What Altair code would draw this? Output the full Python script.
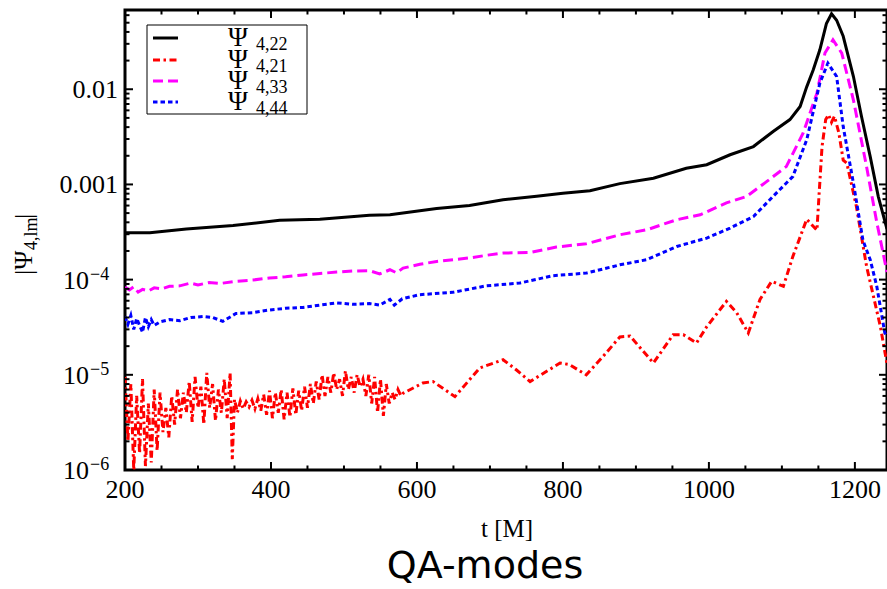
import altair as alt
import pandas as pd

# ---------------- data ----------------
t22 = [200, 234, 284, 348, 412, 467, 535, 563, 627, 672, 718, 764, 800, 837, 878, 924, 969, 997,
       1029, 1061, 1088, 1111, 1125, 1134, 1143, 1152, 1161, 1168, 1175, 1184, 1198, 1209, 1221, 1232, 1244]
v22 = [3.1e-4, 3.1e-4, 3.4e-4, 3.7e-4, 4.2e-4, 4.3e-4, 4.75e-4, 4.8e-4, 5.6e-4, 6.0e-4, 6.9e-4, 7.5e-4,
       8.1e-4, 8.6e-4, 1.02e-3, 1.16e-3, 1.48e-3, 1.61e-3, 2.05e-3, 2.5e-3, 3.6e-3, 4.8e-3, 6.6e-3,
       1.06e-2, 1.6e-2, 2.6e-2, 4.9e-2, 6.2e-2, 5.3e-2, 3.6e-2, 1.36e-2, 5.2e-3, 1.96e-3, 7.5e-4, 3.4e-4]

t33 = [200, 206, 212, 218, 224, 232, 240, 250, 261, 275, 290, 300, 315, 330, 352, 375, 398, 420, 444,
       467, 490, 512, 535, 549, 563, 572, 581, 604, 627, 650, 672, 695, 718, 755, 791, 832, 878, 915, 956,
       988, 1024, 1052, 1079, 1106, 1129, 1148, 1159, 1170, 1182, 1198, 1216, 1230, 1244]
v33 = [8.3e-5, 7.8e-5, 8.4e-5, 7.4e-5, 7.9e-5, 7.6e-5, 8.2e-5, 8.0e-5, 8.5e-5, 8.6e-5, 9.2e-5, 8.8e-5,
       9.3e-5, 9.1e-5, 9.6e-5, 9.9e-5, 1.04e-4, 1.07e-4, 1.12e-4, 1.16e-4, 1.2e-4, 1.23e-4, 1.24e-4,
       1.15e-4, 1.27e-4, 1.18e-4, 1.32e-4, 1.45e-4, 1.55e-4, 1.62e-4, 1.69e-4, 1.8e-4, 1.9e-4, 1.93e-4,
       2.2e-4, 2.38e-4, 2.96e-4, 3.34e-4, 4.26e-4, 4.8e-4, 6.4e-4, 7.5e-4, 1.07e-3, 1.54e-3, 3.45e-3,
       9.1e-3, 2.4e-2, 3.3e-2, 2.4e-2, 7.7e-3, 1.54e-3, 4.0e-4, 1.2e-4]

t44 = [200, 204, 208, 212, 216, 220, 224, 228, 232, 236, 240, 248, 261, 275, 290, 307, 320, 334, 352,
       375, 398, 420, 444, 467, 490, 512, 535, 549, 563, 569, 580, 604, 649, 695, 741, 786, 832, 878, 915,
       956, 997, 1029, 1061, 1088, 1115, 1134, 1152, 1163, 1175, 1184, 1198, 1211, 1221, 1230, 1241, 1244]
v44 = [4.1e-5, 3.4e-5, 4.2e-5, 3.0e-5, 3.9e-5, 3.3e-5, 2.8e-5, 4.0e-5, 3.2e-5, 3.8e-5, 3.3e-5, 3.6e-5,
       3.8e-5, 3.7e-5, 4.0e-5, 4.1e-5, 4.0e-5, 3.65e-5, 4.4e-5, 4.5e-5, 4.8e-5, 5.0e-5, 5.1e-5, 5.4e-5,
       5.7e-5, 5.5e-5, 5.6e-5, 5.4e-5, 6.2e-5, 5.4e-5, 6.3e-5, 6.95e-5, 7.35e-5, 8.6e-5, 9.2e-5, 1.1e-4,
       1.17e-4, 1.43e-4, 1.62e-4, 2.23e-4, 2.73e-4, 3.48e-4, 4.6e-4, 7.5e-4, 1.21e-3, 2.94e-3, 1.16e-2,
       1.88e-2, 1.36e-2, 4.05e-3, 1.03e-3, 2.6e-4, 1.62e-4, 8.5e-5, 2.75e-5, 2.5e-5]

t21 = [200, 204, 208, 212, 216, 220, 224, 228, 232, 236, 240, 244, 248, 252, 256, 260, 264, 268, 272,
       276, 280, 284, 288, 292, 296, 300, 304, 308, 312, 316, 320, 324, 328, 332, 336, 340, 344, 347, 350,
       354, 358, 362, 366, 370, 374, 378, 382, 386, 390, 394, 398, 402, 406, 410, 414, 418, 422, 426, 430,
       434, 438, 442, 446, 450, 454, 458, 462, 466, 470, 474, 478, 482, 486, 490, 494, 498, 502, 506, 510,
       514, 518, 522, 526, 530, 534, 538, 542, 546, 550, 554, 558, 562, 566, 570, 574, 578,
       581, 608, 622, 652, 686, 718, 736, 755, 796, 809, 832, 855, 878, 892, 924, 951, 965, 983, 997,
       1024, 1038, 1054, 1070, 1086, 1102, 1115, 1134, 1148, 1151, 1155, 1160, 1164, 1168, 1172, 1178,
       1184, 1189, 1202, 1216, 1235, 1244]
v21 = [9.5e-6, 2.0e-6, 8.0e-6, 1.0e-6, 6.0e-6, 1.5e-6, 9.0e-6, 1.1e-6, 5.0e-6, 1.2e-6, 7.0e-6, 1.6e-6,
       6.5e-6, 2.5e-6, 4.5e-6, 2.2e-6, 6.0e-6, 3.0e-6, 7.0e-6, 3.5e-6, 6.5e-6, 4.0e-6, 8.5e-6, 3.2e-6,
       9.5e-6, 4.5e-6, 7.5e-6, 3.0e-6, 1.05e-5, 4.5e-6, 8.0e-6, 3.3e-6, 7.0e-6, 4.0e-6, 9.0e-6, 3.5e-6,
       1.05e-5, 1.3e-6, 5.5e-6, 4.0e-6, 5.3e-6, 4.4e-6, 5.2e-6, 4.6e-6, 5.4e-6, 4.4e-6, 5.6e-6, 4.2e-6,
       6.2e-6, 3.8e-6, 6.8e-6, 3.5e-6, 6.5e-6, 4.0e-6, 7.0e-6, 3.4e-6, 6.5e-6, 3.6e-6, 7.2e-6, 3.8e-6,
       6.8e-6, 4.2e-6, 7.5e-6, 4.5e-6, 8.0e-6, 5.0e-6, 8.5e-6, 5.5e-6, 1.0e-5, 6.0e-6, 9.5e-6, 6.5e-6,
       1.05e-5, 7.0e-6, 9.0e-6, 6.0e-6, 1.1e-5, 7.0e-6, 9.5e-6, 6.5e-6, 1.0e-5, 7.5e-6, 9.0e-6, 6.0e-6,
       1.0e-5, 5.0e-6, 9.5e-6, 4.0e-6, 9.0e-6, 3.7e-6, 8.0e-6, 5.0e-6, 6.5e-6, 5.5e-6, 7.0e-6, 6.0e-6,
       6.4e-6, 8.2e-6, 8.5e-6, 5.9e-6, 1.18e-5, 1.44e-5, 1.13e-5, 8.5e-6, 1.33e-5, 1.28e-5, 1.0e-5,
       1.56e-5, 2.5e-5, 2.55e-5, 1.33e-5, 2.64e-5, 2.64e-5, 2.16e-5, 3.2e-5, 5.9e-5, 4.5e-5, 2.75e-5,
       6.2e-5, 9.6e-5, 8.5e-5, 1.75e-4, 4.3e-4, 3.3e-4, 8.0e-4, 2.5e-3, 4.8e-3, 5.4e-3, 4.5e-3, 5.2e-3,
       3.5e-3, 1.8e-3, 1.67e-3, 5.9e-4, 1.38e-4, 3.2e-5, 1.3e-5]

x_major = [200, 400, 600, 800, 1000, 1200]
x_labels = ["200", "400", "600", "800", "1000", "1200"]
x_minor = [250, 300, 350, 450, 500, 550, 650, 700, 750, 850, 900, 950, 1050, 1100, 1150]
y_major = [1e-6, 1e-5, 1e-4, 1e-3, 1e-2]
y_dec_vals = [1e-3, 1e-2]
y_dec_labels = ["0.001", "0.01"]
y_pow_vals = [1e-6, 1e-5, 1e-4]
y_pow_exps = ["−6", "−5", "−4"]
y_minor = [m * d for d in [1e-6, 1e-5, 1e-4, 1e-3, 1e-2] for m in range(2, 10) if m * d < 0.068]

series = [
    ("4,22", "#000000", None, t22, v22),
    ("4,21", "#ff0000", [7, 3.5, 2.5, 3.5], t21, v21),
    ("4,33", "#ff00ff", [10, 5], t33, v33),
    ("4,44", "#0000ff", [4.5, 3], t44, v44),
]

# ---------------- layout ----------------
W, H = 762, 460
xs = alt.Scale(domain=[200, 1244], nice=False, zero=False)
ys = alt.Scale(type="log", domain=[1e-6, 0.068], nice=False)
SERIF = "Liberation Serif"
LW = 3

layers = []

# curves
for name, col, dash, tt, vv in series:
    df = pd.DataFrame({"t": tt, "v": vv})
    mk = dict(color=col, strokeWidth=LW, clip=True)
    if dash:
        mk["strokeDash"] = dash
    layers.append(alt.Chart(df).mark_line(**mk).encode(
        x=alt.X("t:Q", scale=xs, axis=None),
        y=alt.Y("v:Q", scale=ys, axis=None),
        order="t:Q"))

# inward ticks on all four sides
def xticks(vals, length):
    d = pd.DataFrame({"t": vals})
    top = alt.Chart(d).mark_rule(color="black", strokeWidth=2).encode(
        x=alt.X("t:Q", scale=xs, axis=None), y=alt.value(0), y2=alt.value(length))
    bot = alt.Chart(d).mark_rule(color="black", strokeWidth=2).encode(
        x=alt.X("t:Q", scale=xs, axis=None), y=alt.value(H), y2=alt.value(H - length))
    return [top, bot]

def yticks(vals, length):
    d = pd.DataFrame({"v": vals})
    lft = alt.Chart(d).mark_rule(color="black", strokeWidth=2).encode(
        y=alt.Y("v:Q", scale=ys, axis=None), x=alt.value(0), x2=alt.value(length))
    rgt = alt.Chart(d).mark_rule(color="black", strokeWidth=2).encode(
        y=alt.Y("v:Q", scale=ys, axis=None), x=alt.value(W), x2=alt.value(W - length))
    return [lft, rgt]

layers += xticks(x_major, 8) + xticks(x_minor, 4.5) + yticks(y_major, 8) + yticks(y_minor, 4.5)

# tick labels
layers.append(alt.Chart(pd.DataFrame({"t": x_major, "lab": x_labels})).mark_text(
    font=SERIF, fontSize=26, align="center", baseline="alphabetic", color="black").encode(
    x=alt.X("t:Q", scale=xs, axis=None), y=alt.value(488), text="lab:N"))
layers.append(alt.Chart(pd.DataFrame({"v": y_dec_vals, "lab": y_dec_labels})).mark_text(
    font=SERIF, fontSize=26, align="right", baseline="alphabetic", color="black", dy=8.5).encode(
    y=alt.Y("v:Q", scale=ys, axis=None), x=alt.value(-7), text="lab:N"))
layers.append(alt.Chart(pd.DataFrame({"v": y_pow_vals, "lab": ["10"] * len(y_pow_vals)})).mark_text(
    font=SERIF, fontSize=26, align="right", baseline="alphabetic", color="black", dy=9).encode(
    y=alt.Y("v:Q", scale=ys, axis=None), x=alt.value(-36), text="lab:N"))
layers.append(alt.Chart(pd.DataFrame({"v": y_pow_vals, "lab": y_pow_exps})).mark_text(
    font=SERIF, fontSize=18, align="left", baseline="alphabetic", color="black", dy=0).encode(
    y=alt.Y("v:Q", scale=ys, axis=None), x=alt.value(-35), text="lab:N"))

one = pd.DataFrame({"a": [0]})

def txt(s, x, y, size, font=SERIF, align="left", angle=0):
    kw = dict(text=s, font=font, fontSize=size, align=align, baseline="alphabetic", color="black")
    if angle:
        kw["angle"] = angle
    return alt.Chart(one).mark_text(**kw).encode(x=alt.value(x), y=alt.value(y))

# legend box
layers.append(alt.Chart(one).mark_rect(fill="white", stroke="black", strokeWidth=1).encode(
    x=alt.value(22), x2=alt.value(182), y=alt.value(15), y2=alt.value(104)))
row_line = [28, 50, 71, 92]
row_text = [36, 57.5, 79, 100]
for (name, col, dash, tt, vv), yl, yt in zip(series, row_line, row_text):
    mk = dict(color=col, strokeWidth=LW)
    if dash:
        mk["strokeDash"] = dash
    layers.append(alt.Chart(one).mark_rule(**mk).encode(
        x=alt.value(28), x2=alt.value(53), y=alt.value(yl)))
    layers.append(txt("Ψ", 103, yt, 27))
    layers.append(txt(name, 131, yt + 4, 18))

# y-axis label  |Ψ_{4,lm}|
layers.append(txt("|Ψ", -93, 265, 26, angle=270))
layers.append(txt("4,lm", -88, 240, 18, angle=270))
layers.append(txt("|", -93, 209, 26, angle=270))

# x-axis label and bottom caption
layers.append(txt("t [M]", 382, 527, 25, align="center"))
layers.append(txt("QA-modes", 360, 568, 38, font="DejaVu Sans", align="center"))

chart = alt.layer(*layers).properties(
    width=W, height=H,
    autosize=alt.AutoSizeParams(type="none"),
    padding={"left": 125, "top": 10, "right": 0, "bottom": 119},
    background="white",
).configure_view(stroke="black", strokeWidth=3)

chart.save("out.html", embed_options={"renderer": "svg", "actions": False})
